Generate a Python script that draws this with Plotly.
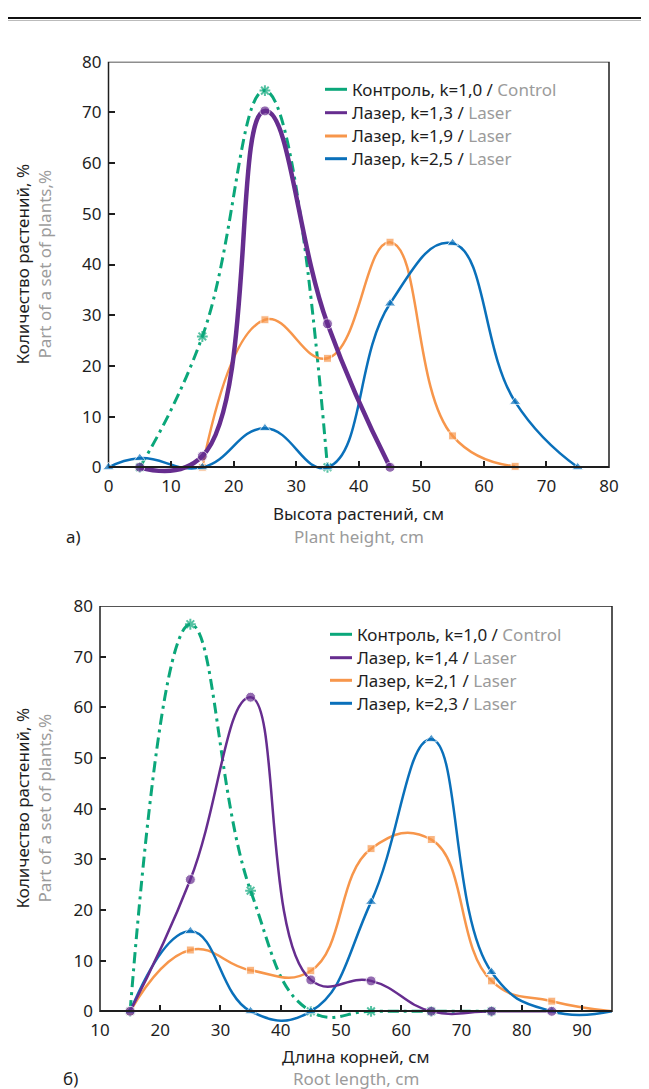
import plotly.graph_objects as go

# ---------------- data (a) plant height ----------------
a_ctrl_x = [5, 15, 25, 35]
a_ctrl_y = [0, 25.8, 74.3, 0]
a_l13_x = [5, 15, 25, 35, 45]
a_l13_y = [0, 2.2, 70.3, 28.3, 0]
a_l19_x = [15, 25, 35, 45, 55, 65]
a_l19_y = [0, 29.1, 21.5, 44.4, 6.2, 0.2]
a_l25_x = [0, 5, 15, 25, 35, 45, 55, 65, 75]
a_l25_y = [0, 1.8, 0, 7.7, 0, 32.3, 44.2, 12.9, 0]

# ---------------- data (b) root length ----------------
b_ctrl_x = [15, 25, 35, 45, 55, 65, 75]
b_ctrl_y = [0, 76.4, 23.8, 0, 0, 0, 0]
b_l14_x = [15, 25, 35, 45, 55, 65, 75, 85]
b_l14_y = [0, 26, 62, 6.2, 6, 0, 0, 0]
b_l21_x = [15, 25, 35, 45, 55, 65, 75, 85, 95]
b_l21_y = [0, 12.1, 8.1, 8, 32.1, 33.9, 6, 2, 0]
b_l23_x = [15, 25, 35, 45, 55, 65, 75, 85, 95]
b_l23_y = [0, 15.8, 0, 0, 21.6, 53.7, 7.75, 0, 0]

legend_a = ["Контроль, k=1,0 / ", "Лазер, k=1,3 / ", "Лазер, k=1,9 / ", "Лазер, k=2,5 / "]
legend_b = ["Контроль, k=1,0 / ", "Лазер, k=1,4 / ", "Лазер, k=2,1 / ", "Лазер, k=2,3 / "]
legend_en = ["Control", "Laser", "Laser", "Laser"]
xticks_a = [0, 10, 20, 30, 40, 50, 60, 70, 80]
xticks_b = [10, 20, 30, 40, 50, 60, 70, 80, 90]
yticks = [0, 10, 20, 30, 40, 50, 60, 70, 80]

GREEN = "#0BA77A"
PURPLE = "#662D8F"
ORANGE = "#F7964B"
BLUE = "#0A70BA"
GRAY = "#9B9B9B"
BLACK = "#1E1E1E"
FONT = "Noto Sans"
FS = 17

# the page body has an 8px margin: the figure is placed at (8, 8)
OFF = 8
W, H = 649 - OFF, 1089 - OFF


def px(x):
    return (x - OFF) / W


def py(y):
    return 1 - (y - OFF) / H


fig = go.Figure()
SMOOTH = 1.3


def add(x, y, color, width, symbol, msize, xa, ya, dash=None, hide_last=False):
    sizes = [msize] * len(x)
    if hide_last:
        sizes[-1] = 0
    mk = dict(symbol=symbol, size=sizes, color=color)
    if symbol.startswith("asterisk"):
        mk["line"] = dict(color=color, width=2)
    fig.add_trace(go.Scatter(
        x=x, y=y, mode="lines+markers", xaxis=xa, yaxis=ya,
        line=dict(color=color, width=width, shape="spline", smoothing=SMOOTH,
                  dash=dash if dash else "solid"),
        marker=mk, cliponaxis=False, showlegend=False, hoverinfo="skip"))


DASH = "11px,5px,3px,5px"
# chart a
add(a_ctrl_x, a_ctrl_y, GREEN, 3, "asterisk-open", 9, "x", "y", dash=DASH)
add(a_l19_x, a_l19_y, ORANGE, 2.5, "square", 8, "x", "y")
add(a_l25_x, a_l25_y, BLUE, 2.5, "triangle-up", 10, "x", "y")
add(a_l13_x, a_l13_y, PURPLE, 4.5, "circle", 10, "x", "y")
# chart b
add(b_ctrl_x, b_ctrl_y, GREEN, 3, "asterisk-open", 9, "x2", "y2", dash=DASH)
add(b_l21_x, b_l21_y, ORANGE, 2.5, "square", 8, "x2", "y2", hide_last=True)
add(b_l23_x, b_l23_y, BLUE, 2.5, "triangle-up", 10, "x2", "y2", hide_last=True)
add(b_l14_x, b_l14_y, PURPLE, 2.5, "circle", 10, "x2", "y2")

# geometry (pixels in the 649x1089 window)
A_L, A_R, A_Y0, A_Y80 = 108.5, 609, 467.3, 61.7
B_L, B_R, B_Y0, B_Y80 = 100, 612, 1011.3, 606
A_YMIN, B_YMIN = -2.5, -5
a_unit = (A_Y0 - A_Y80) / 80
b_unit = (B_Y0 - B_Y80) / 80

tickfont = dict(family=FONT, size=FS, color=BLACK)
common_x = dict(showgrid=False, zeroline=False, showline=True, linecolor=BLACK, linewidth=1.5,
                ticks="inside", ticklen=6, tickwidth=1.5, tickcolor=BLACK, tickfont=tickfont,
                anchor="free", automargin=False, ticklabelstandoff=4)
common_y = dict(showgrid=False, zeroline=False, showline=False,
                ticks="inside", ticklen=6, tickwidth=1.5, tickcolor=BLACK, tickfont=tickfont,
                tickvals=yticks, ticklabelstandoff=6, automargin=False)

fig.update_layout(
    width=W, height=H, margin=dict(l=0, r=0, t=0, b=0, pad=0, autoexpand=False),
    paper_bgcolor="white", plot_bgcolor="rgba(0,0,0,0)",
    font=dict(family=FONT, size=FS, color=BLACK),
    showlegend=False,
    xaxis=dict(domain=[px(A_L), px(A_R)], range=[0, 80], tickvals=xticks_a,
               position=py(A_Y0), **common_x),
    yaxis=dict(domain=[py(A_Y0 - A_YMIN * a_unit), py(A_Y80)], range=[A_YMIN, 80],
               anchor="x", **common_y),
    xaxis2=dict(domain=[px(B_L), px(B_R)], range=[10, 95], tickvals=xticks_b,
                position=py(B_Y0), **common_x),
    yaxis2=dict(domain=[py(B_Y0 - B_YMIN * b_unit), py(B_Y80)], range=[B_YMIN, 80],
                anchor="x2", **common_y),
)

shapes = []
# frames
for xr, yr in (("x", "y"), ("x2", "y2")):
    shapes.append(dict(type="rect", xref=xr + " domain", yref=yr, x0=0, x1=1, y0=0, y1=80,
                       line=dict(color=BLACK, width=1.5), layer="below"))
# top rule
shapes.append(dict(type="line", xref="paper", yref="paper", x0=0, x1=1, y0=py(18), y1=py(18),
                   line=dict(color="#111111", width=2.2)))
shapes.append(dict(type="line", xref="paper", yref="paper", x0=0, x1=1, y0=py(20.5), y1=py(20.5),
                   line=dict(color="#BBBBBB", width=1)))

annotations = []
colors = [GREEN, PURPLE, ORANGE, BLUE]


def legend(rows_y, x_line0, x_line1, x_text, names):
    for yv, c, ru, en in zip(rows_y, colors, names, legend_en):
        shapes.append(dict(type="line", xref="paper", yref="paper", x0=px(x_line0), x1=px(x_line1),
                           y0=py(yv), y1=py(yv), line=dict(color=c, width=3)))
        annotations.append(dict(xref="paper", yref="paper", x=px(x_text), y=py(yv),
                                xanchor="left", yanchor="middle", showarrow=False,
                                text=ru + "<span style='color:%s'>%s</span>" % (GRAY, en),
                                font=dict(family=FONT, size=FS, color=BLACK)))


legend([89.3, 112.7, 136, 158.7], 325, 347, 350, legend_a)
legend([634.3, 657.7, 680.3, 703.3], 330, 352, 355, legend_b)


def text(x, y, s, color=BLACK, angle=0, anchor="center"):
    annotations.append(dict(xref="paper", yref="paper", x=px(x), y=py(y), text=s,
                            textangle=angle, xanchor=anchor, yanchor="middle", showarrow=False,
                            font=dict(family=FONT, size=FS, color=color)))


text((A_L + A_R) / 2, 513, "Высота растений, см")
text((A_L + A_R) / 2, 537, "Plant height, cm", GRAY)
text(73, 537, "а)")
text(22, 264.5, "Количество растений, %", angle=-90)
text(44, 264.5, "Part of a set of plants,%", GRAY, angle=-90)

text((B_L + B_R) / 2, 1056, "Длина корней, см")
text((B_L + B_R) / 2, 1078, "Root length, cm", GRAY)
text(70, 1078, "б)")
text(22, 808.5, "Количество растений, %", angle=-90)
text(44, 808.5, "Part of a set of plants,%", GRAY, angle=-90)

fig.update_layout(shapes=shapes, annotations=annotations)
fig.write_html("out.html")
